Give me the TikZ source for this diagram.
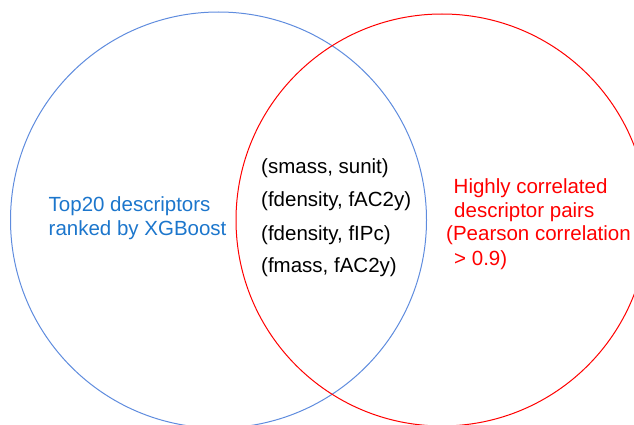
\documentclass[tikz,border=0pt]{standalone}
\usepackage{fontspec}
\setmainfont{Liberation Sans}
\definecolor{bluecirc}{RGB}{95,140,222}
\definecolor{bluetext}{RGB}{28,118,204}
\definecolor{redcol}{RGB}{255,0,0}
\begin{document}
\begin{tikzpicture}[x=1pt,y=-1pt,
  txt/.style={anchor=base west,inner sep=0pt,font=\fontsize{20.5}{24}\selectfont},
  venn/.style={circle,draw,line width=1pt,inner sep=0pt}]
\useasboundingbox (0,0) rectangle (634,425);
\clip (0,0) rectangle (634,425);
\node[venn,draw=bluecirc,minimum size=416pt] (bluec) at (218.5,220) {};
\node[venn,draw=redcol,minimum size=412pt] (redc) at (442,220) {};
% left
\node[txt,text=bluetext] (b1) at (48.5,211.5) {Top20 descriptors};
\node[txt,text=bluetext] (b2) at (48.5,235) {ranked by XGBoost};
% middle
\node[txt] (m1) at (261,173) {(smass, sunit)};
\node[txt] (m2) at (261,206) {(fdensity, fAC2y)};
\node[txt] (m3) at (261,240) {(fdensity, fIPc)};
\node[txt] (m4) at (261,272) {(fmass, fAC2y)};
% right
\node[txt,text=redcol] (r1) at (453.5,193) {Highly correlated};
\node[txt,text=redcol] (r2) at (454,217) {descriptor pairs};
\node[txt,text=redcol] (r3) at (446,240.5) {(Pearson correlation};
\node[txt,text=redcol] (r4) at (454,265.5) {> 0.9)};
\end{tikzpicture}
\end{document}
